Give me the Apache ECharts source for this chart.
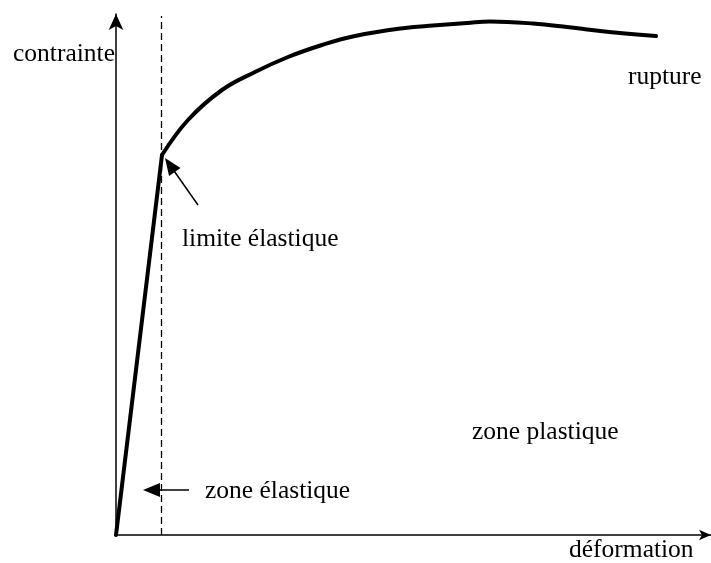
<!DOCTYPE html>
<html><head><meta charset="utf-8">
<script src="https://cdn.jsdelivr.net/npm/echarts@6/dist/echarts.min.js"></script>
<style>html,body{margin:0;padding:0;background:#fff}#c{width:711px;height:563px}</style>
</head><body><div id="c"></div>
<script>
// Courbe contrainte-déformation (unités arbitraires)
const elasticX = [0, 46];
const elasticY = [0, 380];
const plasticX = [46, 72, 106, 139, 172, 206, 239, 289, 317, 351, 374, 417, 451, 484, 540];
const plasticY = [380, 415, 445, 463, 478, 490, 499, 507, 509.5, 512, 513.5, 511.5, 508, 504, 499];
const yieldX = 45.5;           // limite élastique (ligne pointillée)
const yieldLineY = [0, 519];
const axisMaxX = 595;
const axisMaxY = 521;
const arrowLimiteFrom = [82, 330];
const arrowLimiteTo = [53.9, 370];
const arrowElastFrom = [73, 45];
const arrowElastTo = [35.5, 45];
const textLabels = ['contrainte', 'rupture', 'limite élastique', 'zone plastique', 'zone élastique', 'déformation'];

const zip = (a, b) => a.map((v, i) => [v, b[i]]);
const FONT = '25.5px "Liberation Serif", "Times New Roman", serif';
const labelPos = [[13, 54], [628, 77], [182, 239], [472, 432], [205, 491], [569, 550]];

const chart = echarts.init(document.getElementById('c'), null, {renderer: 'canvas'});
chart.setOption({
  animation: false,
  backgroundColor: '#fff',
  grid: {left: 116, right: 0, top: 14, bottom: 28, containLabel: false},
  xAxis: {
    type: 'value', min: 0, max: axisMaxX,
    splitLine: {show: false}, axisTick: {show: false}, axisLabel: {show: false},
    axisLine: {show: true, lineStyle: {color: '#000', width: 1.5},
      symbol: ['none', 'arrow'], symbolSize: [8, 12], symbolOffset: [0, 0]}
  },
  yAxis: {
    type: 'value', min: 0, max: axisMaxY,
    splitLine: {show: false}, axisTick: {show: false}, axisLabel: {show: false},
    axisLine: {show: true, lineStyle: {color: '#000', width: 1.5},
      symbol: ['none', 'arrow'], symbolSize: [11, 16], symbolOffset: [0, 0]}
  },
  series: [
    {
      type: 'line', data: zip(elasticX, elasticY), symbol: 'none', clip: false, silent: true,
      lineStyle: {color: '#000', width: 4, cap: 'round', join: 'round'}
    },
    {
      type: 'line', data: zip(plasticX, plasticY), symbol: 'none', smooth: 0.4, clip: false, silent: true,
      lineStyle: {color: '#000', width: 4, cap: 'round', join: 'round'}
    },
    {
      type: 'line', data: [], clip: false, silent: true,
      markLine: {
        silent: true, symbol: ['none', 'none'], label: {show: false},
        lineStyle: {color: '#000', width: 1.3, type: [7, 4]},
        emphasis: {disabled: true},
        data: [[{coord: [yieldX, yieldLineY[0]]}, {coord: [yieldX, yieldLineY[1]]}]]
      }
    },
    {
      type: 'line', data: [], clip: false, silent: true,
      markLine: {
        silent: true, symbol: ['none', 'triangle'], label: {show: false},
        lineStyle: {color: '#000', width: 1.5, type: 'solid'},
        itemStyle: {color: '#000'},
        emphasis: {disabled: true},
        data: [
          [{coord: arrowLimiteFrom, symbol: 'none'}, {coord: arrowLimiteTo, symbol: 'triangle', symbolSize: [14, 17]}],
          [{coord: arrowElastFrom, symbol: 'none'}, {coord: arrowElastTo, symbol: 'triangle', symbolSize: [14, 17]}]
        ]
      }
    }
  ],
  graphic: textLabels.map((t, i) => ({
    type: 'text', x: labelPos[i][0], y: labelPos[i][1], silent: true,
    style: {text: t, font: FONT, fill: '#000', align: 'left', verticalAlign: 'middle'}
  }))
});
</script></body></html>
